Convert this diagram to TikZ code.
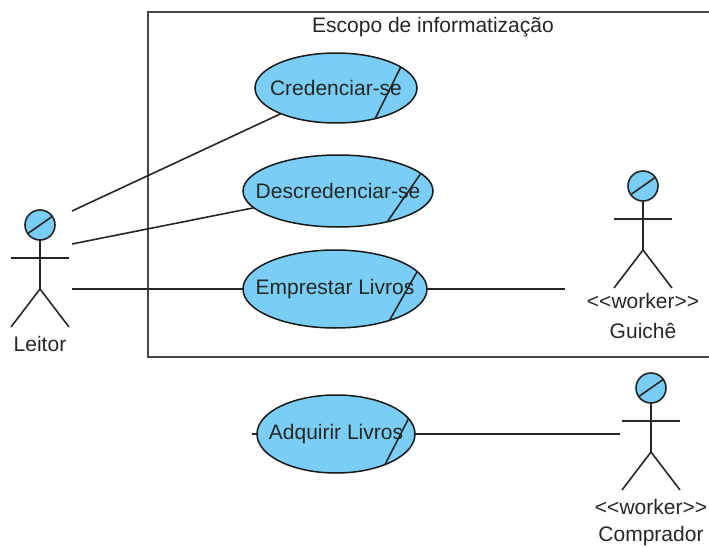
\documentclass[tikz,border=0pt]{standalone}
\usepackage{fontspec}
\setmainfont{Liberation Sans}
\usetikzlibrary{shapes.geometric}
\definecolor{ucfill}{RGB}{122,206,245}
\definecolor{boxline}{RGB}{70,70,70}
\begin{document}
\begin{tikzpicture}[x=1pt,y=-1pt,
  txt/.style={font=\fontsize{21pt}{25pt}\selectfont, text=black!85, inner sep=0pt},
  ln/.style={line width=1.6pt, draw=black!85},
  usecase/.style={ellipse, draw=black!90, line width=1.5pt, fill=ucfill,
    inner xsep=-20pt, inner ysep=0pt, outer sep=0pt,
    font=\fontsize{21pt}{25pt}\selectfont, text=black!85},
  actor/.pic={
    \draw[ln, fill=ucfill] (0,0) circle[radius=15];
    \draw[ln] (145:15) -- (-35:15);
    \draw[ln] (0,15) -- (0,64);
    \draw[ln] (-29,33) -- (29,33);
    \draw[ln] (-29,102) -- (0,64) -- (29,102);
  }]
\useasboundingbox (0,0) rectangle (709,546);
\clip (0,0) rectangle (709,546);

% system boundary
\draw[boxline, line width=2pt] (720,12) -- (148,12) -- (148,357) -- (720,357);
\node[txt] (scope) at (433,27) {Escopo de informatização};

% use cases
\node[usecase, minimum width=162, minimum height=70] (cred) at (336,88) {Credenciar-se};
\node[usecase, minimum width=190, minimum height=72] (descr) at (338,191) {Descredenciar-se};
\node[usecase, minimum width=184, minimum height=78] (empr) at (335,289) {Emprestar Livros};
\node[usecase, minimum width=158, minimum height=78] (adq) at (336,434) {Adquirir Livros};

% business use case markers
\draw[ln] (cred.18) -- (cred.-38);
\draw[ln] (descr.12) -- (descr.-32);
\draw[ln] (empr.12) -- (empr.-30);
\draw[ln] (adq.12) -- (adq.-32);

% actors
\pic (leitor) at (40,225) {actor};
\node[txt] (leitorlbl) at (40,344) {Leitor};
\pic (guiche) at (643,186) {actor};
\node[txt] (guichest) at (643,301) {<{}<worker>{}>};
\node[txt] (guichelbl) at (643,331) {Guichê};
\pic (comprador) at (651,388) {actor};
\node[txt] (comprst) at (651,507) {<{}<worker>{}>};
\node[txt] (comprlbl) at (651,536) {Comprador};

% connector end points next to the actors
\coordinate (leitorA) at (72,211);
\coordinate (leitorB) at (72,244);
\coordinate (leitorC) at (72,289);
\coordinate (guicheP) at (565,289);
\coordinate (comprP) at (620,434);
\coordinate (adqStub) at (252,434);

% associations
\draw[ln] (leitorA) -- (cred);
\draw[ln] (leitorB) -- (descr);
\draw[ln] (leitorC) -- (empr);
\draw[ln] (empr) -- (guicheP);
\draw[ln] (adq.east) -- (comprP);
\draw[ln] (adqStub) -- (adq.west);
\end{tikzpicture}
\end{document}
